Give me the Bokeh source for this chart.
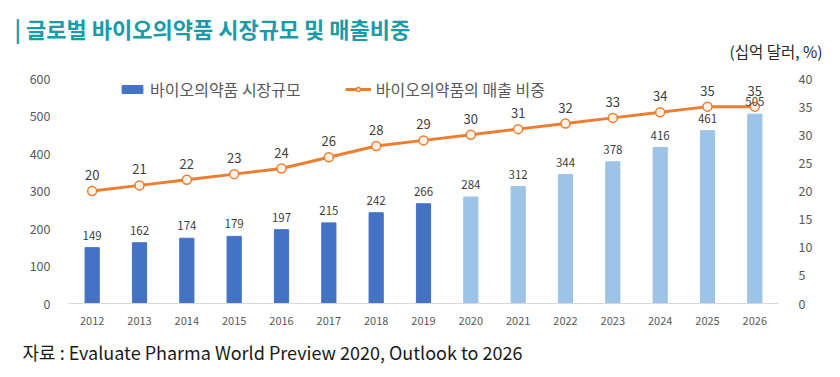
from bokeh.plotting import figure
from bokeh.models import (Range1d, LinearAxis, FixedTicker, Legend, LegendItem, Title,
                          ColumnDataSource, FactorRange)
from bokeh.core.properties import value
from bokeh.embed import file_html
from bokeh.resources import INLINE

years = [str(y) for y in range(2012, 2027)]
market = [149, 162, 174, 179, 197, 215, 242, 266, 284, 312, 344, 378, 416, 461, 505]
share = [20, 21, 22, 23, 24, 26, 28, 29, 30, 31, 32, 33, 34, 35, 35]
bar_colors = ["#4472C4"] * 8 + ["#9DC3E6"] * 7
left_ticks = [0, 100, 200, 300, 400, 500, 600]
right_ticks = [0, 5, 10, 15, 20, 25, 30, 35, 40]

title_text = "| 글로벌 바이오의약품 시장규모 및 매출비중"
unit_text = "(십억 달러, %)"
source_text = "자료 : Evaluate Pharma World Preview 2020, Outlook to 2026"
bar_name = "바이오의약품 시장규모"
line_name = "바이오의약품의 매출 비중"

FONT = "Noto Sans CJK KR"
GREY = "#595959"

p = figure(width=840, height=377, x_range=FactorRange(*years), y_range=Range1d(0, 600),
           output_backend="svg", toolbar_location=None, title=None,
           min_border_left=68, min_border_right=62, min_border_top=78, min_border_bottom=74)
p.extra_y_ranges = {"pct": Range1d(0, 40)}
p.outline_line_color = None
p.xgrid.grid_line_color = None
p.ygrid.grid_line_color = None
p.x_range.range_padding = 0

src = ColumnDataSource(dict(x=years, market=market, share=share, color=bar_colors,
                            mlab=[str(v) for v in market], slab=[str(v) for v in share]))

bars = p.vbar(x="x", top="market", width=0.3, color="color", source=src)
line = p.line(x="x", y="share", y_range_name="pct", line_color="#ED7D31", line_width=3, source=src)
pts = p.scatter(x="x", y="share", y_range_name="pct", size=9, fill_color="#FFF3E8",
                line_color="#ED7D31", line_width=1.5, source=src)

p.text(x="x", y="market", text="mlab", source=src, y_offset=-8, text_align="center",
       text_baseline="bottom", text_font=value(FONT), text_font_size="11.5px", text_color="#404040")
p.text(x="x", y="share", text="slab", source=src, y_range_name="pct", y_offset=-11,
       text_align="center", text_baseline="bottom", text_font=value(FONT),
       text_font_size="13px", text_color="#404040")

# axes
p.yaxis.ticker = FixedTicker(ticks=left_ticks)
ax = p.yaxis[0]
ax.axis_line_color = None
ax.major_tick_line_color = None
ax.minor_tick_line_color = None
ax.major_label_text_font = FONT
ax.major_label_text_font_size = "12.5px"
ax.major_label_text_color = GREY
ax.major_label_standoff = 12

rax = LinearAxis(y_range_name="pct", ticker=FixedTicker(ticks=right_ticks))
rax.axis_line_color = None
rax.major_tick_line_color = None
rax.minor_tick_line_color = None
rax.major_label_text_font = FONT
rax.major_label_text_font_size = "12.5px"
rax.major_label_text_color = GREY
rax.major_label_standoff = 14
p.add_layout(rax, "right")

p.xaxis.axis_line_color = "#D9D9D9"
p.xaxis.major_tick_line_color = None
p.xaxis.minor_tick_line_color = None
p.xaxis.major_label_text_font = FONT
p.xaxis.major_label_text_font_size = "11px"
p.xaxis.major_label_text_color = GREY
p.xaxis.major_label_standoff = 7

legend = Legend(items=[LegendItem(label=bar_name, renderers=[bars]),
                       LegendItem(label=line_name, renderers=[line, pts])],
                orientation="horizontal", location=(51, 202),
                background_fill_alpha=0, border_line_color=None,
                label_text_font=FONT, label_text_font_size="16px", label_text_color=GREY,
                glyph_width=26, glyph_height=10, spacing=44, padding=0, margin=0,
                label_standoff=5)
p.add_layout(legend, "center")

# titles: nearest-to-frame first
p.add_layout(Title(text=unit_text, align="right", text_font=FONT, text_font_size="15.5px",
                   text_color="#262626", text_font_style="normal", offset=-44,
                   standoff=34), "above")
p.add_layout(Title(text=title_text, align="left", text_font=FONT, text_font_size="22px",
                   text_color="#1A9BA8", text_font_style="bold", offset=-54,
                   standoff=-47), "above")
p.add_layout(Title(text=source_text, align="left", text_font=FONT, text_font_size="18px",
                   text_color="#1a1a1a", text_font_style="normal", offset=-46,
                   standoff=19), "below")

open("out.html", "w").write(file_html(p, INLINE))
